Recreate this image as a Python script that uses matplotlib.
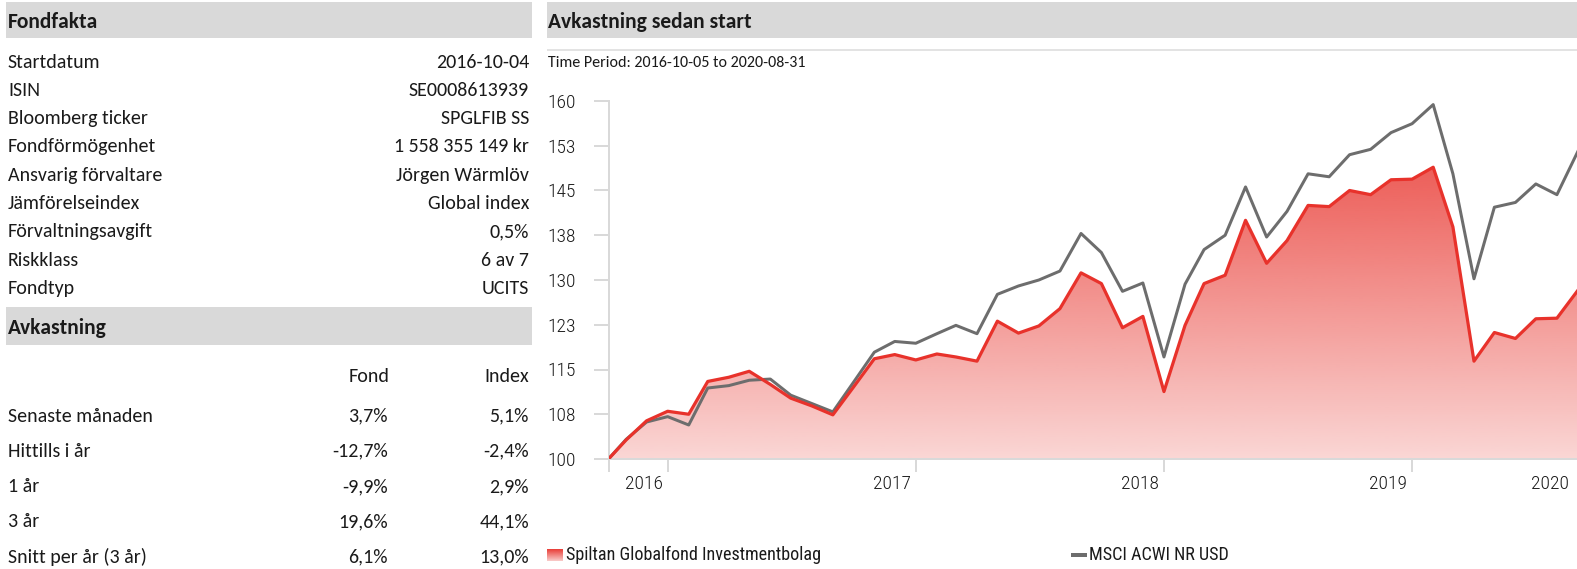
import numpy as np
import pandas as pd
import matplotlib
matplotlib.use("Agg")
import matplotlib.pyplot as plt
import matplotlib.dates as mdates
from matplotlib.patches import Rectangle
from matplotlib.colors import to_rgb

# fact sheet tables
fact_labels = ["Startdatum", "ISIN", "Bloomberg ticker", "Fondförmögenhet",
               "Ansvarig förvaltare", "Jämförelseindex", "Förvaltningsavgift",
               "Riskklass", "Fondtyp"]
fact_values = ["2016-10-04", "SE0008613939", "SPGLFIB SS", "1 558 355 149 kr",
               "Jörgen Wärmlöv", "Global index", "0,5%", "6 av 7", "UCITS"]

return_labels = ["Senaste månaden", "Hittills i år", "1 år", "3 år", "Snitt per år (3 år)"]
fund_returns = ["3,7%", "-12,7%", "-9,9%", "19,6%", "6,1%"]
index_returns = ["5,1%", "-2,4%", "2,9%", "44,1%", "13,0%"]

# monthly chart series (start value 100)
dates = [pd.Timestamp("2016-10-05")] + list(
    pd.date_range("2016-10-31", "2020-08-31", freq=pd.offsets.MonthEnd()))
fund = [100.0, 103.2, 106.4, 108.0, 107.5, 113.0, 113.7, 114.7, 112.5, 110.2,
        108.9, 107.4, 112.0, 116.8, 117.5, 116.6, 117.6, 117.1, 116.4, 123.1,
        121.1, 122.3, 125.2, 131.2, 129.4, 122.0, 123.9, 111.3, 122.4, 129.4,
        130.8, 140.0, 132.8, 136.6, 142.5, 142.3, 145.0, 144.3, 146.8, 146.9,
        148.9, 138.9, 116.4, 121.2, 120.2, 123.5, 123.6, 128.3]
index = [100.0, 103.3, 106.2, 107.1, 105.7, 111.9, 112.3, 113.2, 113.4, 110.7,
         109.3, 107.9, 112.8, 117.9, 119.7, 119.4, 121.0, 122.4, 121.0, 127.6,
         129.0, 130.0, 131.5, 137.8, 134.6, 128.1, 129.5, 117.1, 129.3, 135.1,
         137.5, 145.6, 137.2, 141.5, 147.8, 147.3, 151.0, 151.9, 154.7, 156.2,
         159.4, 147.8, 130.2, 142.2, 143.0, 146.1, 144.3, 151.6]
year_ends = [pd.Timestamp(f"{y}-12-31") for y in (2016, 2017, 2018, 2019)]
year_labels = ["2016", "2017", "2018", "2019"]
y_ticks = np.arange(100, 160.1, 7.5)

W, H = 1577, 569
RED = "#e8322b"
GREY = "#6d6d6d"
BAR = "#d9d9d9"
AXC = "#d9d9d9"
TXT = "#1a1a1a"
body = ["Carlito", "Lato", "DejaVu Sans"]
narrow = ["Roboto Condensed", "Archivo Narrow", "Liberation Sans Narrow", "DejaVu Sans"]
PT = 0.72  # points per pixel at 100 dpi
BS = 14.4  # body text size
HS = 15.5  # header size

fig = plt.figure(figsize=(W / 100, H / 100), dpi=100)

# background axes in pixel coordinates
bg = fig.add_axes([0, 0, 1, 1])
bg.set_xlim(0, W)
bg.set_ylim(H, 0)
bg.axis("off")

for (x0, y0, x1, y1) in [(6, 2, 532, 38), (6, 307, 532, 345), (547, 2, W, 38)]:
    bg.add_patch(Rectangle((x0, y0), x1 - x0, y1 - y0, color=BAR, lw=0))

bg.text(8, 22, "Fondfakta", family=body, weight="bold", size=HS, color=TXT, va="center")
bg.text(8, 328, "Avkastning", family=body, weight="bold", size=HS, color=TXT, va="center")
bg.text(548, 22, "Avkastning sedan start", family=body, weight="bold", size=HS,
        color=TXT, va="center")

for i, (lab, val) in enumerate(zip(fact_labels, fact_values)):
    y = 62 + i * 28.3
    bg.text(8, y, lab, family=body, size=BS, color=TXT, va="center")
    bg.text(529, y, val, family=body, size=BS, color=TXT, va="center", ha="right")

bg.text(389, 376, "Fond", family=body, size=BS, color=TXT, va="center", ha="right")
bg.text(529, 376, "Index", family=body, size=BS, color=TXT, va="center", ha="right")
for i, (lab, f, ix) in enumerate(zip(return_labels, fund_returns, index_returns)):
    y = 416 + i * 35.3
    bg.text(8, y, lab, family=body, size=BS, color=TXT, va="center")
    bg.text(388, y, f, family=body, size=BS, color=TXT, va="center", ha="right")
    bg.text(529, y, ix, family=body, size=BS, color=TXT, va="center", ha="right")

bg.plot([548, W], [50, 50], color="#e3e3e3", lw=2 * PT)
bg.text(548, 63, "Time Period: 2016-10-05 to 2020-08-31", family=body, size=11.5,
        color=TXT, va="center")

# legend
red_rgb = np.array(to_rgb(RED))
grad = np.linspace(0.95, 0.25, 64)
sq = np.ones((64, 1, 4))
sq[:, 0, :3] = red_rgb
sq[:, 0, 3] = grad
bg.imshow(sq, extent=[547, 563, 561, 549], aspect="auto", interpolation="bilinear")
bg.text(566, 555, "Spiltan Globalfond Investmentbolag", family=narrow, size=13.1,
        color=TXT, va="center")
bg.plot([1071, 1087], [555, 555], color=GREY, lw=4 * PT, solid_capstyle="butt")
bg.text(1089, 555, "MSCI ACWI NR USD", family=narrow, size=13.1, color=TXT, va="center")
bg.set_xlim(0, W)
bg.set_ylim(H, 0)

# chart axes
ax = fig.add_axes([608.5 / W, (H - 459) / H, (1578 - 608.5) / W, (459 - 101) / H])
ax.patch.set_alpha(0)
xnum = mdates.date2num(dates)

poly = ax.fill_between(xnum, fund, 100, color="none", lw=0)
ga = np.linspace(0.2, 0.92, 256)
img = np.ones((256, 1, 4))
img[:, 0, :3] = red_rgb
img[:, 0, 3] = ga
im = ax.imshow(img, extent=[xnum[0], xnum[-1], 100, 160], origin="lower",
               aspect="auto", interpolation="bilinear", zorder=1)
im.set_clip_path(poly.get_paths()[0], transform=ax.transData)

ax.plot(xnum, index, color=GREY, lw=3 * PT, zorder=3)
ax.plot(xnum, fund, color=RED, lw=3.2 * PT, zorder=4)

ax.set_xlim(xnum[0], xnum[-1])
ax.set_ylim(100, 160)

for s in ["top", "right"]:
    ax.spines[s].set_visible(False)
for s in ["left", "bottom"]:
    ax.spines[s].set_color(AXC)
    ax.spines[s].set_linewidth(2 * PT)

ax.set_yticks(y_ticks)
ax.set_yticklabels([f"{int(v + 0.5)}" for v in y_ticks])
ax.tick_params(axis="y", length=15 * PT, width=2 * PT, color=AXC, pad=18 * PT,
               labelsize=14, labelcolor=TXT)
for lab in ax.get_yticklabels():
    lab.set_family(narrow)
    lab.set_weight("light")

ax.set_xticks(mdates.date2num([dates[0]] + year_ends))
ax.set_xticklabels([])
ax.tick_params(axis="x", length=13 * PT, width=2 * PT, color=AXC)

for d, lab in zip(year_ends, year_labels):
    ax.annotate(lab, xy=(mdates.date2num(d), 0), xycoords=("data", "axes fraction"),
                xytext=(-5 * PT, -25 * PT), textcoords="offset points",
                ha="right", va="center", family=narrow, weight="light", size=14,
                color=TXT)
ax.annotate("2020", xy=(xnum[-1], 0), xycoords=("data", "axes fraction"),
            xytext=(-9 * PT, -25 * PT), textcoords="offset points",
            ha="right", va="center", family=narrow, weight="light", size=14,
            color=TXT, annotation_clip=False)

fig.savefig("out.png", dpi=100)
